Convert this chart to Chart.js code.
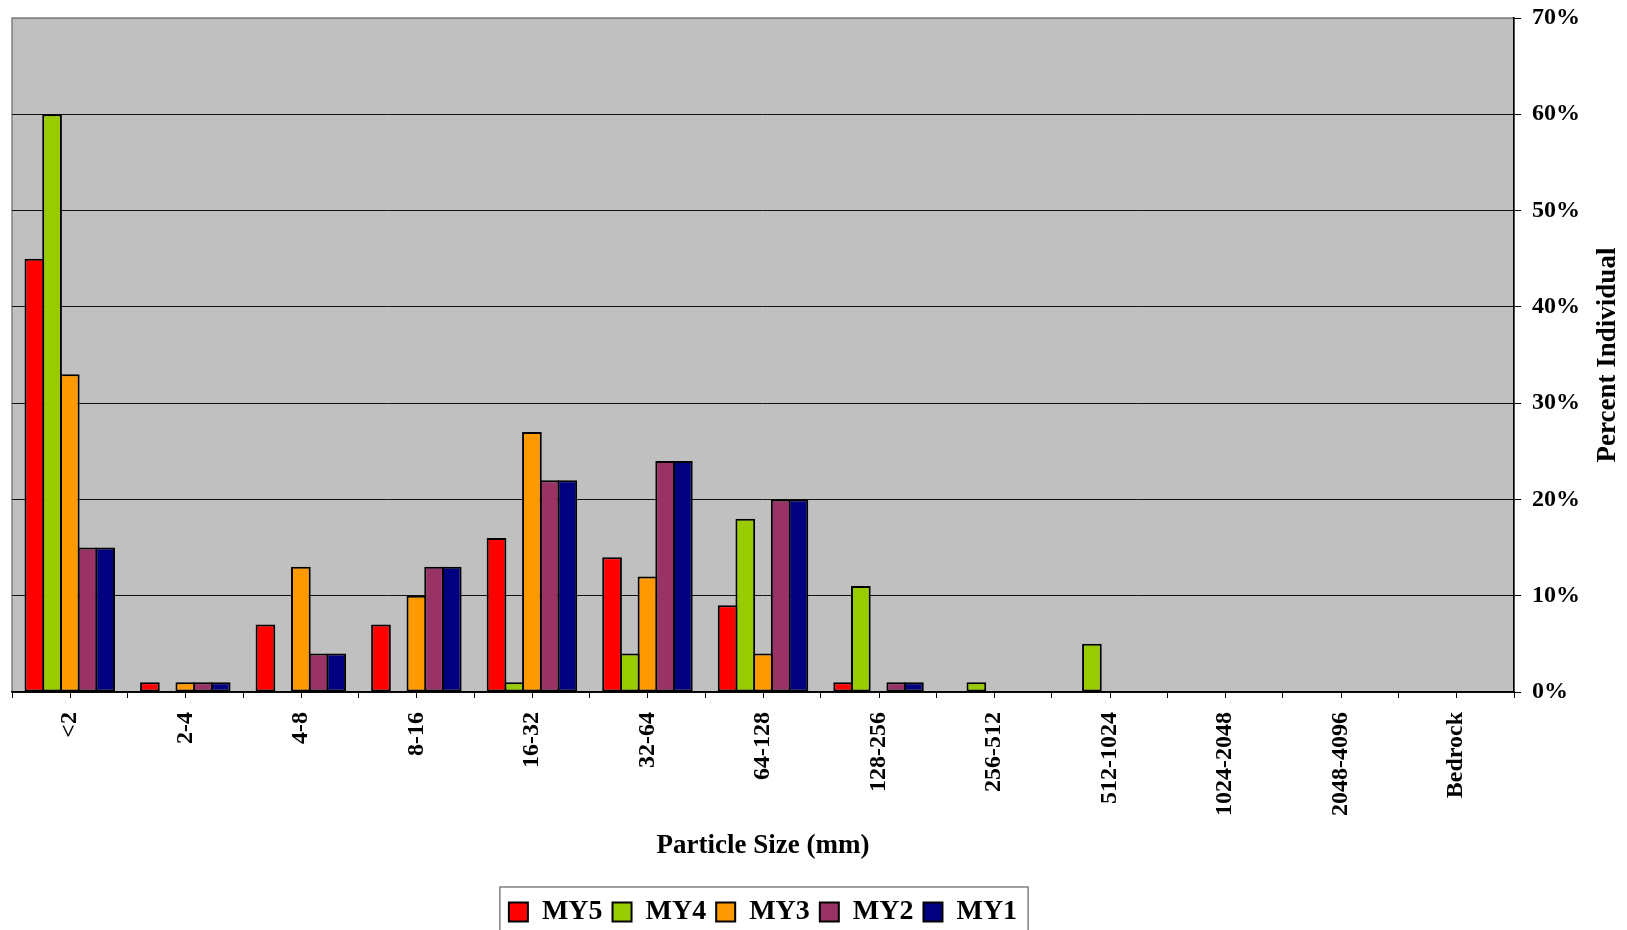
<!DOCTYPE html>
<html>
<head>
<meta charset="utf-8">
<title>Particle Size Distribution</title>
<script src="https://cdn.jsdelivr.net/npm/chart.js@4.4.1/dist/chart.umd.min.js"></script>
<style>
	html, body { margin: 0; padding: 0; background: #fff; }
	#wrap { width: 1627px; height: 930px; }
</style>
</head>
<body>
<div id="wrap"><canvas id="chart"></canvas></div>
<script>
const sizeClasses = ['<2', '2-4', '4-8', '8-16', '16-32', '32-64', '64-128', '128-256', '256-512', '512-1024', '1024-2048', '2048-4096', 'Bedrock'];
const seriesNames = ['MY5', 'MY4', 'MY3', 'MY2', 'MY1'];
const my5 = [45, 1, 7, 7, 16, 14, 9, 1, 0, 0, 0, 0, 0];
const my4 = [60, 0, 0, 0, 1, 4, 18, 11, 1, 5, 0, 0, 0];
const my3 = [33, 1, 13, 10, 27, 12, 4, 0, 0, 0, 0, 0, 0];
const my2 = [15, 1, 4, 13, 22, 24, 20, 1, 0, 0, 0, 0, 0];
const my1 = [15, 1, 4, 13, 22, 24, 20, 1, 0, 0, 0, 0, 0];
const seriesColors = ['#FF0000', '#99CC00', '#FF9900', '#993366', '#000080'];
const yMax = 70;
const yStep = 10;

const FONT = '"Liberation Serif", "Times New Roman", serif';

// gray plot background, extra tick marks, rotated y title and the legend frame
const plotFrame = {
	id: 'plotFrame',
	afterLayout(chart){
		// centre the legend under the plot area instead of the whole canvas
		const lg = chart.legend;
		lg.left = chart.chartArea.left;
		lg.right = chart.chartArea.right;
		lg.width = lg.right - lg.left;
		lg.adjustHitBoxes();
	},
	beforeDraw(chart){
		const {ctx, chartArea: a} = chart;
		ctx.save();
		ctx.fillStyle = '#C0C0C0';
		ctx.fillRect(a.left, a.top, a.right - a.left, a.bottom - a.top);
		ctx.strokeStyle = '#808080';
		ctx.lineWidth = 1.5;
		ctx.strokeRect(a.left, a.top, a.right - a.left, a.bottom - a.top);
		ctx.restore();
	},
	afterDraw(chart){
		const {ctx, chartArea: a} = chart;
		const x = chart.scales.x;
		ctx.save();
		// tick marks under each category centre
		ctx.strokeStyle = '#000';
		ctx.lineWidth = 1;
		x.ticks.forEach((t, i) => {
			const px = Math.round(x.getPixelForTick(i)) + 0.5;
			ctx.beginPath();
			ctx.moveTo(px, a.bottom);
			ctx.lineTo(px, a.bottom + 6);
			ctx.stroke();
		});

		// right axis title reads bottom to top
		ctx.translate(1608, (a.top + a.bottom) / 2);
		ctx.rotate(-Math.PI / 2);
		ctx.font = 'bold 27px ' + FONT;
		ctx.fillStyle = '#000';
		ctx.textAlign = 'center';
		ctx.textBaseline = 'middle';
		ctx.fillText('Percent Individual', 0, 0);
		ctx.restore();

		// frame round the legend items
		const lg = chart.legend;
		const boxes = lg.legendHitBoxes;
		if(boxes && boxes.length){
			const first = boxes[0];
			const last = boxes[boxes.length - 1];
			ctx.save();
			ctx.strokeStyle = '#808080';
			ctx.lineWidth = 1.5;
			ctx.strokeRect(first.left - 9, lg.top - 1, last.left + last.width + 11 - (first.left - 9), 80);
			ctx.restore();
		}
	}
};

// bars overlap by one border width so neighbours share a single outline
const datasets = [my5, my4, my3, my2, my1].map((values, i) => ({
	label: seriesNames[i],
	data: values,
	backgroundColor: seriesColors[i],
	borderColor: '#000',
	borderWidth: 2,
	borderSkipped: false,
	categoryPercentage: 0.766,
	barPercentage: 1.113
}));

new Chart(document.getElementById('chart'), {
	type: 'bar',
	data: {
		labels: sizeClasses,
		datasets: datasets
	},
	plugins: [plotFrame],
	options: {
		responsive: true,
		maintainAspectRatio: false,
		devicePixelRatio: 1,
		animation: false,
		layout: {
			padding: { left: 12, top: 18, right: 0, bottom: -6 }
		},
		plugins: {
			tooltip: { enabled: false },
			legend: {
				position: 'bottom',
				labels: {
					color: '#000',
					font: { family: FONT, size: 28, weight: 'bold' },
					boxWidth: 19,
					boxHeight: 19,
					padding: 10
				}
			}
		},
		scales: {
			x: {
				grid: {
					offset: true,
					drawOnChartArea: false,
					drawTicks: true,
					tickLength: 6,
					color: '#000'
				},
				border: { display: true, color: '#000', width: 1.5 },
				ticks: {
					color: '#000',
					font: { family: FONT, size: 24, weight: 'bold' },
					minRotation: 90,
					maxRotation: 90,
					autoSkip: false,
					padding: 14
				},
				title: {
					display: true,
					text: 'Particle Size (mm)',
					color: '#000',
					font: { family: FONT, size: 27, weight: 'bold' },
					padding: { top: 0, bottom: 26 }
				},
				afterFit(scale){ scale.height = 196; }
			},
			y: {
				position: 'right',
				min: 0,
				max: yMax,
				grid: {
					color: ctx => ctx.tick && ctx.tick.value === yMax ? '#808080' : '#111',
					lineWidth: 1,
					tickLength: 7,
					tickColor: '#000'
				},
				border: { display: true, color: '#000', width: 1.5 },
				ticks: {
					stepSize: yStep,
					color: '#000',
					font: { family: FONT, size: 24, weight: 'bold' },
					padding: 11,
					callback: v => v + '%'
				},
				afterFit(scale){
					scale.width = 113;
					// let the layout padding decide the top edge
					scale.paddingTop = 0;
					scale.paddingBottom = 0;
				}
			}
		}
	}
});
</script>
</body>
</html>
